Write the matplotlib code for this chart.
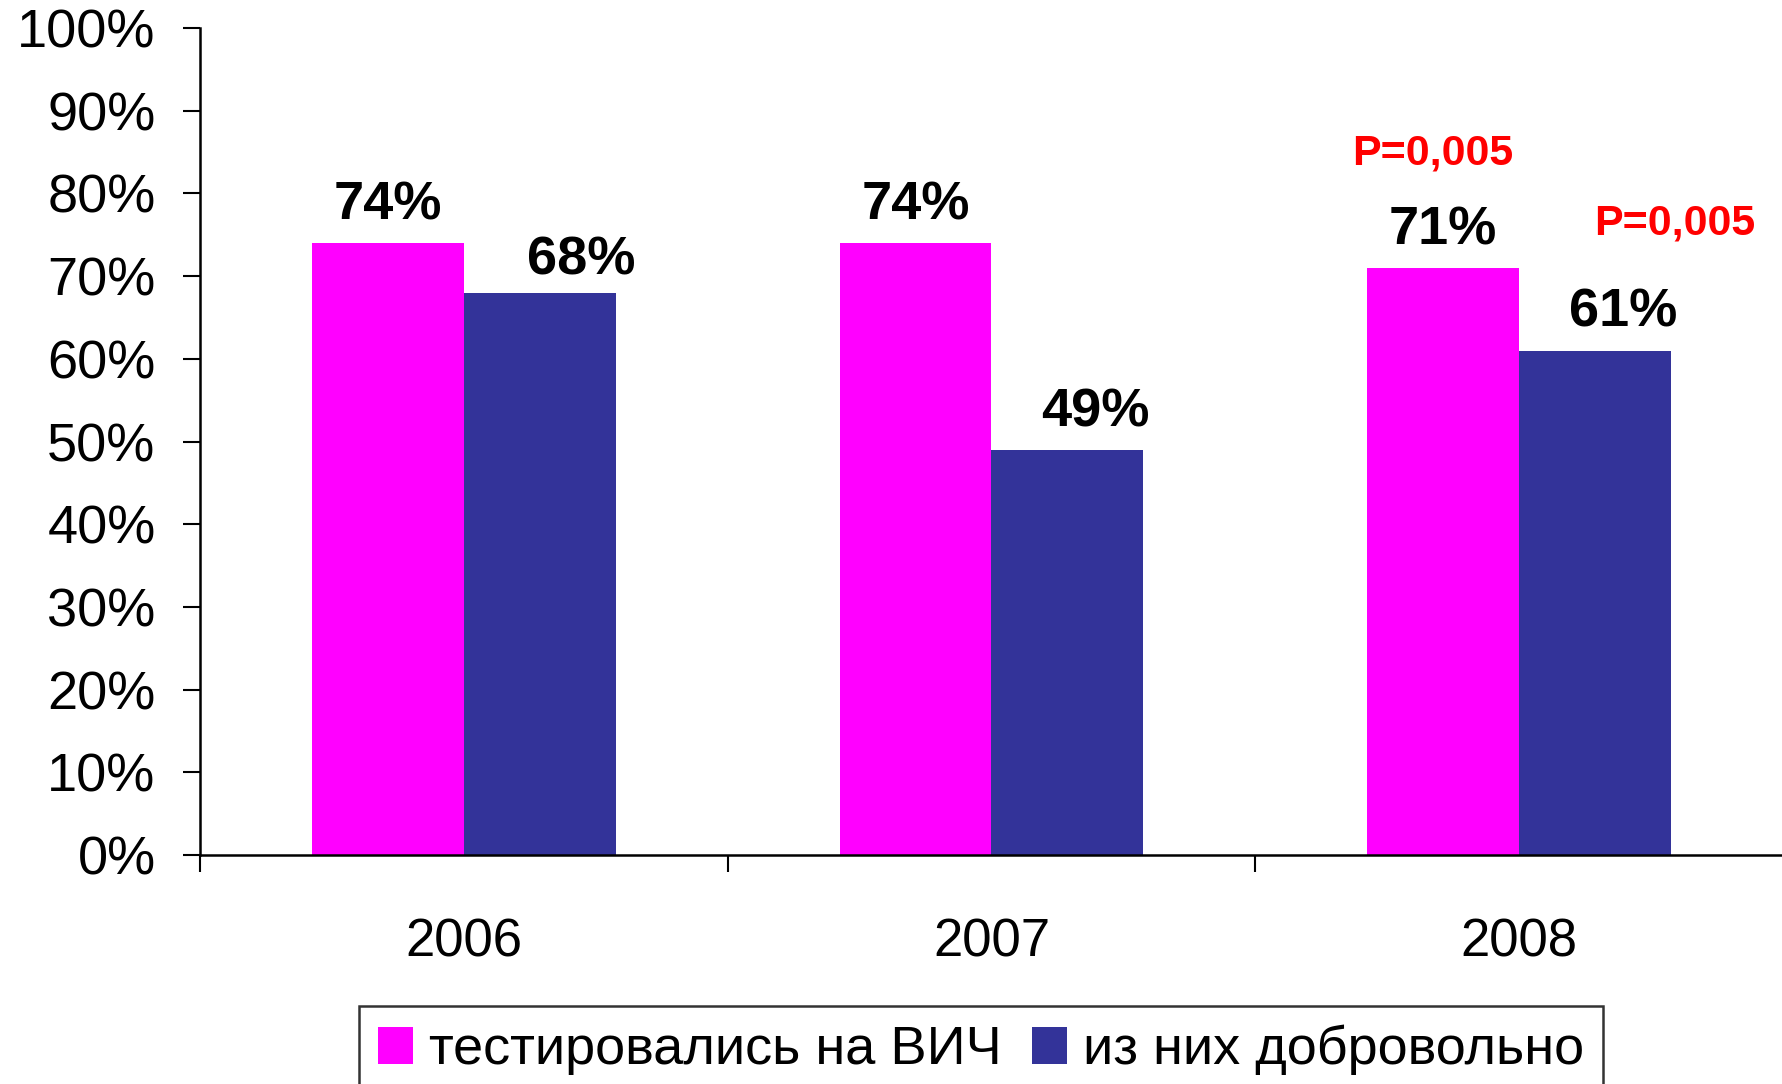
import matplotlib
matplotlib.use("Agg")
import matplotlib.pyplot as plt
import numpy as np

plt.rcParams['font.family'] = ['Liberation Sans', 'DejaVu Sans']

years = ['2006', '2007', '2008']
tested = [74, 74, 71]
voluntary = [68, 49, 61]
series_names = ['тестировались на ВИЧ', 'из них добровольно']
p_labels = ['P=0,005', 'P=0,005']

MAGENTA = '#FF00FF'
NAVY = '#333399'

fig = plt.figure(figsize=(17.83, 10.84), dpi=100, facecolor='white')
ax = fig.add_axes([200 / 1783, 229 / 1084, 1 - 200 / 1783, 827 / 1084])

x = np.arange(len(years)) + 0.5
w = 0.288
ax.bar(x - w / 2, tested, w, color=MAGENTA, label=series_names[0])
ax.bar(x + w / 2, voluntary, w, color=NAVY, label=series_names[1])

ax.set_xlim(0, 3)
ax.set_ylim(0, 100)

# value labels
for xi, v in zip(x - w / 2, tested):
    ax.annotate(f'{v}%', (xi, v), xytext=(0, 17), textcoords='offset points',
                ha='center', va='baseline', fontsize=39, fontweight='bold')
for i, (xi, v) in enumerate(zip(x + w / 2, voluntary)):
    dx = 30 if i == 0 else 20
    dy = 13 if i == 0 else 17
    ax.annotate(f'{v}%', (xi, v), xytext=(dx, dy), textcoords='offset points',
                ha='center', va='baseline', fontsize=39, fontweight='bold')

# significance notes on 2008
ax.text(x[2] - w / 2 - 0.02, 84.8, p_labels[0], color='red', fontsize=31,
        fontweight='bold', ha='center', va='center')
ax.text(x[2] + w / 2 + 0.15, 76.4, p_labels[1], color='red', fontsize=31,
        fontweight='bold', ha='center', va='center')

ax.set_yticks(np.arange(0, 101, 10))
ax.set_yticklabels([f'{t}%' for t in range(0, 101, 10)], fontsize=39)
ax.tick_params(axis='y', direction='out', length=12, width=1.5, pad=20)

ax.set_xticks([0, 1, 2])
ax.set_xticklabels([])
ax.tick_params(axis='x', which='major', direction='out', length=12, width=1.5)
ax.set_xticks(x, minor=True)
ax.set_xticklabels(years, minor=True, fontsize=38)
ax.tick_params(axis='x', which='minor', length=0, pad=45)

for s in ['top', 'right']:
    ax.spines[s].set_visible(False)
for s in ['left', 'bottom']:
    ax.spines[s].set_linewidth(1.8)
    ax.spines[s].set_color('black')

leg = fig.legend(loc='upper left', bbox_to_anchor=(359 / 1783, 1 - 1006 / 1084),
                 ncol=2, fontsize=39, frameon=True, fancybox=False,
                 edgecolor='black', handlelength=0.65, handleheight=0.65,
                 handletextpad=0.3, columnspacing=0.55, borderpad=0.35,
                 borderaxespad=0)
leg.get_frame().set_linewidth(1.8)

fig.savefig('out.png', dpi=100, facecolor='white')
